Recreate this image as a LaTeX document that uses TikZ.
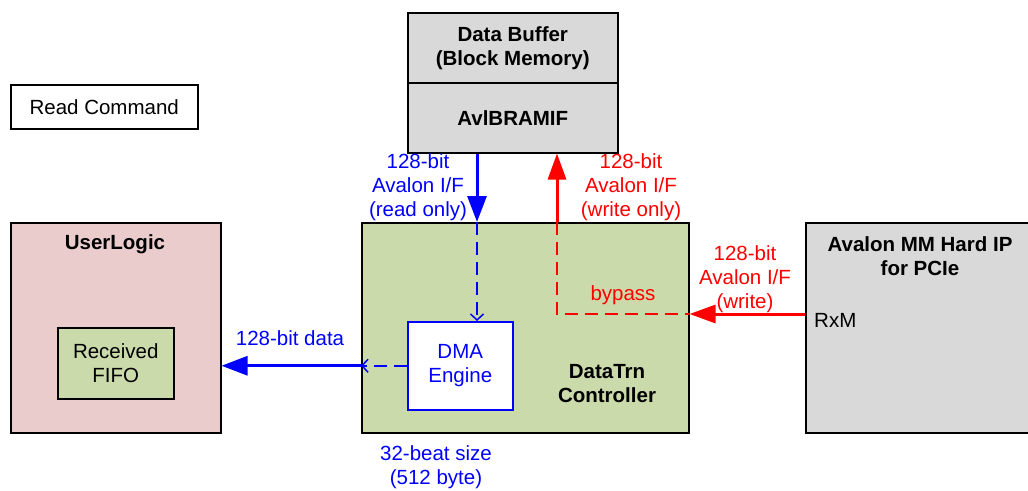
\documentclass[tikz,border=0pt]{standalone}
\usepackage{fontspec}
\setmainfont{Liberation Sans}
\usetikzlibrary{arrows.meta}
\definecolor{gbox}{HTML}{D9D9D9}
\definecolor{pinkbox}{HTML}{EBCCCC}
\definecolor{greenbox}{HTML}{CBDAAA}
\begin{document}
\begin{tikzpicture}[x=1pt,y=-1pt,
  font=\fontsize{20.5}{24}\selectfont,
  bfont/.style={font=\fontsize{20.5}{24}\selectfont\bfseries},
  box/.style={draw, line width=1.5pt, anchor=north west, inner sep=0pt, align=center},
  lbl/.style={align=center, inner sep=0pt},
  bthick/.style={draw=blue, line width=3pt, -{Triangle[length=26pt,width=19pt]}},
  rthick/.style={draw=red, line width=3pt, -{Triangle[length=26pt,width=18pt]}},
  bdash/.style={draw=blue, line width=1.5pt, dash pattern=on 13pt off 7pt, -{Straight Barb[length=6pt,width=13pt]}},
  rdash/.style={draw=red, line width=1.5pt, dash pattern=on 13pt off 7pt}]
\path[use as bounding box] (0,0) rectangle (1028,490);
% boxes
\node[box, fill=white, minimum width=187pt, minimum height=44pt] (rc) at (10,84) {Read Command};
\node[box, fill=gbox, minimum width=210pt, minimum height=70pt, bfont] (db) at (407,12) {Data Buffer\\(Block Memory)};
\node[box, fill=gbox, minimum width=210pt, minimum height=70pt, bfont] (avl) at (407,82) {AvlBRAMIF};
\node[box, fill=pinkbox, minimum width=210pt, minimum height=210pt] (ul) at (10,222) {};
\node[lbl, bfont] (ult) at (115,244) {UserLogic};
\node[box, fill=greenbox, minimum width=116pt, minimum height=71pt] (fifo) at (57,327) {Received\\FIFO};
\node[box, fill=greenbox, minimum width=327pt, minimum height=210pt] (dt) at (361,222) {};
\node[lbl, bfont] (dtt) at (607,384) {DataTrn\\Controller};
\node[box, draw=blue, text=blue, fill=white, minimum width=105pt, minimum height=88pt] (dma) at (407,321) {DMA\\Engine};
\node[box, fill=gbox, minimum width=232pt, minimum height=210pt] (hip) at (805,222) {};
\node[lbl, bfont] (hipt) at (920,256) {Avalon MM Hard IP\\for PCIe};
\node[lbl, anchor=west] (rxm) at (814,320) {RxM};
% helper coordinates
\coordinate (bx) at (477,0);
\coordinate (rx) at (557,0);
\coordinate (ry) at (0,314);
% connectors
\draw[bthick] (avl.south -| bx) -- (dt.north -| bx);
\draw[bdash] (dt.north -| bx) -- (dma.north -| bx);
\draw[rdash] (dt.north -| rx) -- (rx |- ry) -- (dt.east |- ry);
\draw[rthick] (dt.north -| rx) -- (avl.south -| rx);
\draw[rthick] (hip.west |- ry) -- (dt.east |- ry);
\draw[bdash] (dma.west) -- (dt.west |- dma.west);
\draw[bthick] (dt.west |- dma.west) -- (ul.east |- dma.west);
% labels
\node[lbl, text=blue] (l1) at (418,187) {128-bit\\Avalon I/F\\(read only)};
\node[lbl, text=red] (l2) at (631,187) {128-bit\\Avalon I/F\\(write only)};
\node[lbl, text=red] (l3) at (623,295) {bypass};
\node[lbl, text=red] (l4) at (745,279) {128-bit\\Avalon I/F\\(write)};
\node[lbl, text=blue] (l5) at (290,338) {128-bit data};
\node[lbl, text=blue] (l6) at (436,467) {32-beat size\\(512 byte)};
\end{tikzpicture}
\end{document}
